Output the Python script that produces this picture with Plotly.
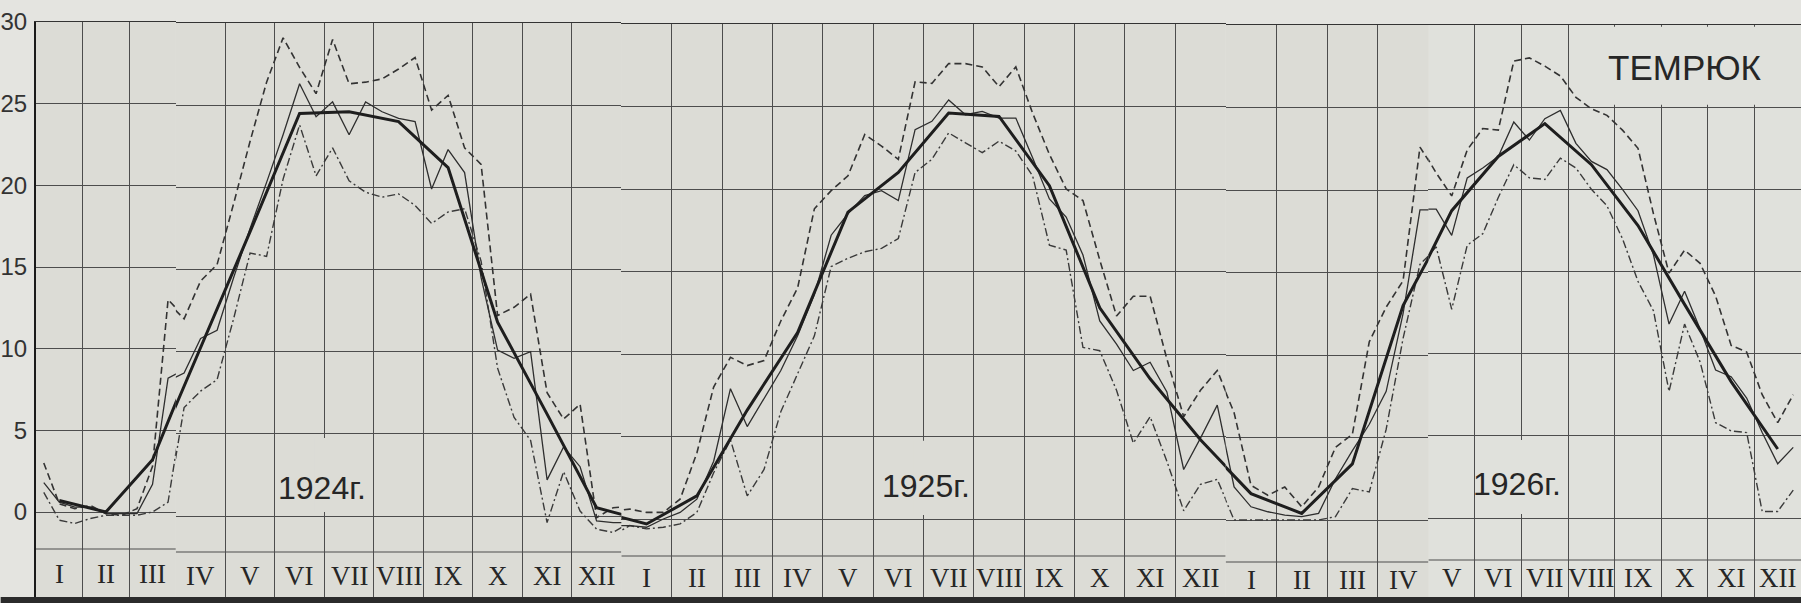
import plotly.graph_objects as go

# ---------------- data (water temperature, °C) ----------------
month_labels = ["I", "II", "III", "IV", "V", "VI", "VII", "VIII", "IX", "X", "XI", "XII"]
year_labels = ["1924г.", "1925г.", "1926г."]
station = "ТЕМРЮК"
y_ticks = [0, 5, 10, 15, 20, 25, 30]

# 10-day (decade) values, 3 per month, thin solid line
thin_1924 = [1.8, 0.6, 0.3, 0.3, -0.1, -0.1, -0.1, 1.7, 8.2, 8.7, 10.8, 11.3,
             14.5, 17.5, 20.3, 23.2, 26.3, 24.3, 25.2, 23.2, 25.2, 24.6, 24.2, 24.0,
             19.9, 22.3, 20.9, 14.5, 10.1, 9.6, 10.0, 2.2, 4.2, 3.0, -0.3, -0.4]
thin_1925 = [-0.4, -0.5, 0.0, 0.4, 1.2, 3.5, 7.9, 5.6, 7.3, 9.0, 11.1, 13.6,
             17.2, 18.5, 19.6, 19.9, 19.3, 23.6, 24.1, 25.4, 24.5, 24.7, 24.3, 24.3,
             21.9, 19.4, 18.3, 16.0, 12.0, 10.6, 9.0, 9.5, 7.7, 3.0, 4.9, 6.9]
thin_1926 = [2.0, 0.8, 0.5, 0.3, 0.2, 0.4, 2.5, 4.2, 5.8, 7.8, 12.5, 18.8,
             18.8, 17.2, 20.7, 21.3, 22.0, 24.1, 23.0, 24.3, 24.8, 22.8, 21.7, 21.2,
             20.0, 18.7, 16.0, 11.8, 13.8, 11.5, 9.0, 8.6, 7.3, 5.2, 3.3, 4.3]

# dashed line (decade maxima)
dashed_1924 = [3.0, 0.5, 0.2, 0.4, -0.1, -0.2, 0.2, 2.8, 13.0, 12.0, 14.3, 15.3,
               19.0, 22.8, 26.4, 29.1, 27.3, 25.7, 29.0, 26.3, 26.4, 26.6, 27.2, 27.9,
               24.7, 25.6, 22.4, 21.4, 12.2, 12.7, 13.5, 7.5, 5.9, 6.8, -0.1, 0.5]
dashed_1925 = [0.6, 0.4, 0.4, 1.2, 4.0, 8.0, 9.8, 9.3, 9.6, 12.0, 14.0, 18.8,
               19.9, 20.8, 23.3, 22.6, 21.8, 26.5, 26.4, 27.6, 27.6, 27.4, 26.2, 27.4,
               24.6, 22.1, 20.0, 19.3, 15.7, 12.3, 13.5, 13.5, 9.7, 6.2, 7.8, 9.0]
dashed_1926 = [6.5, 2.1, 1.5, 2.0, 0.8, 2.0, 4.4, 5.2, 10.8, 12.9, 14.5, 22.6,
               21.0, 19.6, 22.4, 23.7, 23.6, 27.8, 28.0, 27.5, 26.9, 25.6, 24.9, 24.5,
               23.6, 22.5, 18.5, 14.9, 16.3, 15.5, 13.5, 10.5, 10.1, 7.5, 5.8, 7.5]

# dash-dot line (decade minima)
dashdot_1924 = [1.2, -0.5, -0.7, -0.4, -0.2, -0.2, -0.2, 0.0, 0.6, 6.6, 7.6, 8.3,
                12.0, 16.0, 15.8, 20.5, 23.8, 20.7, 22.4, 20.4, 19.7, 19.4, 19.6, 18.9,
                17.8, 18.5, 18.7, 15.5, 9.0, 6.0, 4.6, -0.4, 2.7, 0.3, -0.8, -1.0]
dashdot_1925 = [-0.4, -0.6, -0.5, -0.3, 0.4, 2.8, 4.8, 1.4, 3.0, 6.5, 8.8, 11.1,
                15.3, 15.8, 16.2, 16.4, 17.0, 21.0, 21.8, 23.4, 22.8, 22.2, 22.9, 22.3,
                20.8, 16.6, 16.3, 10.4, 10.2, 7.8, 4.6, 6.2, 3.5, 0.5, 2.1, 2.4]
dashdot_1926 = [0.0, 0.0, 0.0, 0.0, 0.0, 0.0, 0.2, 1.9, 1.7, 5.5, 11.0, 15.5,
                16.5, 12.7, 16.6, 17.3, 19.5, 21.5, 20.7, 20.6, 21.9, 21.3, 20.0, 19.0,
                17.0, 14.4, 12.6, 7.7, 11.8, 9.5, 5.8, 5.3, 5.2, 0.4, 0.4, 1.7]

# monthly means, thick line
mean_1924 = [0.7, 0.0, 3.2, 10.2, 17.3, 24.5, 24.6, 24.0, 21.2, 11.8, 6.2, 0.5]
mean_1925 = [-0.3, 1.4, 6.6, 11.3, 18.6, 21.0, 24.6, 24.4, 20.2, 12.8, 8.5, 4.8]
mean_1926 = [1.6, 0.4, 3.4, 13.0, 18.7, 22.0, 24.0, 21.5, 17.8, 13.0, 8.3, 4.2]

# ---------------- assemble ----------------
thin = thin_1924 + thin_1925 + thin_1926
dashed = dashed_1924 + dashed_1925 + dashed_1926
dashdot = dashdot_1924 + dashdot_1925 + dashdot_1926
mean = mean_1924 + mean_1925 + mean_1926

n_months = 36
x_dec = [m + (2 * d + 1) / 6 for m in range(n_months) for d in range(3)]
x_mon = [m + 0.5 for m in range(n_months)]

# The scanned sheet is slightly warped: the month axis is split into pieces,
# each with its own scale (pixel positions of the piece borders, of 0 and 30).
W, H = 1801, 603
L, R, T, B = 34, 0, 22, 6
PLOT_BOTTOM = H - B
PH = H - T - B
seg_rng = [0, 3, 12, 24, 28, 36]
seg_px = [34, 174, 620, 1225, 1428, 1801]
seg_p0 = [512, 516, 519, 520, 518]
seg_p30 = [22, 23, 24, 25, 25]
seg_row = [549, 552, 556, 562, 560]    # upper line of the month-label row
seg_lab = [574, 576, 578, 580, 578]    # centre of month labels
NSEG = len(seg_p0)
pw = W - L - R

xa = ["x" if i == 0 else "x%d" % (i + 1) for i in range(NSEG)]
ya = ["y" if i == 0 else "y%d" % (i + 1) for i in range(NSEG)]
scale = [(seg_p0[i] - seg_p30[i]) / 30.0 for i in range(NSEG)]


def px2val(i, p):
    return (seg_p0[i] - p) / scale[i]


def seg_of(xv):
    for i in range(NSEG):
        if seg_rng[i] <= xv < seg_rng[i + 1]:
            return i
    return NSEG - 1


PAPER = "#dcdcd6"
PAGE2 = "#e0e1dc"
INK = "#262626"
GRID = "#4d4d4d"

fig = go.Figure()


def add_series(xs, ys, line):
    for i in range(NSEG):
        a, b = seg_rng[i], seg_rng[i + 1]
        idx = [k for k, xv in enumerate(xs) if a <= xv <= b]
        if idx:
            lo = max(idx[0] - 1, 0)
            hi = min(idx[-1] + 1, len(xs) - 1)
        else:
            lo = max([k for k, xv in enumerate(xs) if xv < a])
            hi = lo + 1
        fig.add_trace(go.Scatter(
            x=xs[lo:hi + 1], y=ys[lo:hi + 1], mode="lines",
            line=line, xaxis=xa[i], yaxis=ya[i],
            showlegend=False, hoverinfo="skip"))


add_series(x_dec, dashed, dict(color="#333333", width=1.6, dash="7px,4px"))
add_series(x_dec, dashdot, dict(color="#3a3a3a", width=1.4, dash="8px,3px,2px,3px"))
add_series(x_dec, thin, dict(color="#2e2e2e", width=1.3))
add_series(x_mon, mean, dict(color="#1e1e1e", width=3.0))

layout = dict(
    width=W, height=H,
    margin=dict(l=L, r=R, t=T, b=B),
    paper_bgcolor="#e4e4e0",
    plot_bgcolor=PAPER,
    showlegend=False,
)
for i in range(NSEG):
    xkey = "xaxis" if i == 0 else "xaxis%d" % (i + 1)
    ykey = "yaxis" if i == 0 else "yaxis%d" % (i + 1)
    layout[xkey] = dict(domain=[(seg_px[i] - L) / pw, (seg_px[i + 1] - L) / pw],
                        range=[seg_rng[i], seg_rng[i + 1]],
                        anchor=ya[i], tick0=0, dtick=1, showgrid=True, gridcolor=GRID,
                        gridwidth=1, showticklabels=False, ticks="", zeroline=False,
                        showline=True, mirror=True, linecolor="#333333", linewidth=1,
                        fixedrange=True)
    ydom_top = (PLOT_BOTTOM - seg_p30[i]) / PH
    ymin = -(PLOT_BOTTOM - seg_p0[i]) / scale[i]
    layout[ykey] = dict(domain=[0, ydom_top], range=[ymin, 30], tickvals=y_ticks,
                        showgrid=True, gridcolor=GRID, gridwidth=1, zeroline=False,
                        anchor=xa[i], fixedrange=True,
                        showticklabels=(i == 0),
                        showline=(i == 0), linecolor="#1a1a1a", linewidth=2,
                        ticks="", ticklabelstandoff=2,
                        tickfont=dict(family="Liberation Sans, Arial, sans-serif",
                                      size=24, color="#333333"))
fig.update_layout(**layout)

shapes = []
last = NSEG - 1
# lighter second page of the sheet
shapes.append(dict(type="rect", xref=xa[last], yref=ya[last] + " domain", x0=seg_rng[last],
                   x1=seg_rng[last + 1], y0=0, y1=1,
                   fillcolor=PAGE2, line=dict(width=0), layer="below"))
for i in range(NSEG):
    # upper border of the month-label row
    rv = px2val(i, seg_row[i])
    shapes.append(dict(type="line", xref=xa[i], yref=ya[i], x0=seg_rng[i], x1=seg_rng[i + 1],
                       y0=rv, y1=rv, line=dict(color=GRID, width=1), layer="below"))
# blank cells behind year labels and the station name (no data lines pass there)
for xm in [6, 18, 30]:
    i = seg_of(xm)
    shapes.append(dict(type="rect", xref=xa[i], yref=ya[i], x0=xm - 0.2, x1=xm + 0.2,
                       y0=0.25, y1=4.75, fillcolor=PAGE2 if i == last else PAPER,
                       line=dict(width=0), layer="above"))
shapes.append(dict(type="rect", xref=xa[last], yref=ya[last], x0=31.9, x1=36, y0=25.15,
                   y1=29.9, fillcolor=PAGE2, line=dict(width=0), layer="above"))
# dark edge of the sheet at the bottom
shapes.append(dict(type="rect", xref="paper", yref="paper", x0=-0.02, x1=1, y0=-0.05, y1=0,
                   fillcolor="#2b2b2b", line=dict(width=0), layer="above"))
fig.update_layout(shapes=shapes)

ann = []
for m in range(n_months):
    i = seg_of(m + 0.5)
    ann.append(dict(x=m + 0.5, y=px2val(i, seg_lab[i]), xref=xa[i], yref=ya[i],
                    text=month_labels[m % 12], showarrow=False,
                    font=dict(family="Liberation Serif, Times New Roman, serif",
                              size=27, color=INK)))
for txt, xv, py in zip(year_labels, [5.95, 18.05, 29.9], [488, 486, 484]):
    i = seg_of(xv)
    ann.append(dict(x=xv, y=px2val(i, py), xref=xa[i], yref=ya[i], text=txt,
                    showarrow=False,
                    font=dict(family="Liberation Sans, Arial, sans-serif", size=32, color=INK)))
ann.append(dict(x=33.5, y=px2val(last, 67), xref=xa[last], yref=ya[last], text=station,
                showarrow=False,
                font=dict(family="Liberation Sans, Arial, sans-serif", size=35, color=INK)))
fig.update_layout(annotations=ann)

fig.write_html("out.html")
